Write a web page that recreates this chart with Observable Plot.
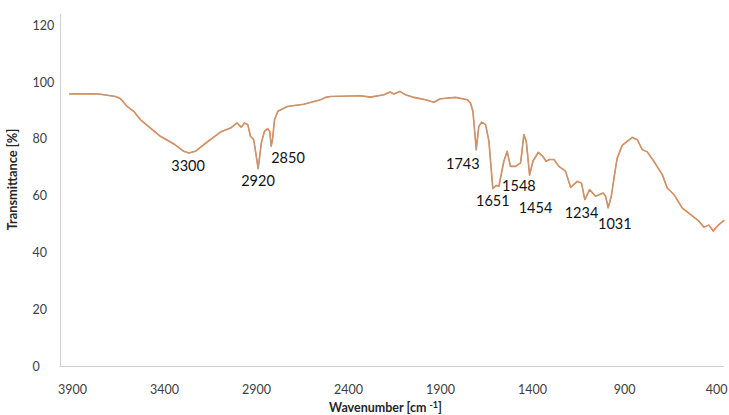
<!DOCTYPE html>
<html><head><meta charset="utf-8">
<script src="https://cdn.jsdelivr.net/npm/d3@7"></script>
<script src="https://cdn.jsdelivr.net/npm/@observablehq/plot@0.6"></script>
<style>body{margin:0;background:#fff} svg{display:block}</style>
</head><body><div id="chart"></div>
<script>
const wavenumber = [3915,3820,3757,3666,3639,3603,3567,3530,3476,3422,3349,3295,3268,3232,3186,3096,3041,3005,2983,2965,2947,2933,2915,2891,2874,2857,2839,2828,2820,2813,2802,2784,2733,2643,2552,2525,2498,2335,2280,2208,2175,2154,2121,2090,2045,1982,1936,1900,1818,1755,1737,1724,1706,1692,1677,1655,1637,1616,1597,1583,1556,1538,1520,1492,1465,1447,1434,1416,1398,1369,1344,1326,1308,1284,1257,1221,1193,1157,1134,1116,1090,1058,1016,1003,989,972,949,940,913,858,831,804,777,741,695,668,632,587,541,496,469,442,418,388,361];
const transmittance = [96.0,96.1,96.0,95.1,94.3,91.6,89.9,86.9,84.0,81.1,78.4,75.8,75.2,75.8,78.2,82.6,84.0,85.8,84.3,85.8,85.2,81.1,79.9,69.7,78.7,82.8,83.8,82.8,77.6,79.9,86.9,89.9,91.6,92.4,94.0,94.8,95.1,95.4,94.9,95.7,96.7,96.0,96.9,95.7,94.8,94.0,93.1,94.3,94.8,94.0,92.8,89.9,76.4,84.6,86.1,85.2,79.3,62.7,63.8,63.5,72.3,75.8,70.5,70.5,71.7,81.7,79.3,67.4,72.3,75.4,74.0,72.3,72.9,72.9,70.5,68.8,63.1,65.2,64.6,58.8,62.3,60.0,61.1,60.0,55.9,60.0,69.9,73.4,77.9,80.7,79.9,76.4,75.6,72.3,67.6,62.9,60.6,55.9,53.5,51.2,49.1,49.8,47.7,50.0,51.4];

const peakLabels = ["3300","2920","2850","1743","1651","1548","1454","1234","1031"];
const peakLabelX = [3272,2892,2729,1779,1616,1474,1384,1134,953];
const peakLabelY = [70.5,65.2,73.2,71.1,58.0,63.4,55.6,54.1,50.2];

const xTicks = [3900,3400,2900,2400,1900,1400,900,400];
const yTicks = [0,20,40,60,80,100,120];
const xDomain = [3965, 357];
const yDomain = [0, 124];
const xTitle = "Wavenumber [cm -1]";
const yTitle = "Transmittance [%]";

const spectrum = wavenumber.map((w, i) => ({w, t: transmittance[i]}));
const peaks = peakLabels.map((label, i) => ({label, x: peakLabelX[i], y: peakLabelY[i]}));

const chart = Plot.plot({
  width: 729, height: 415,
  marginLeft: 60, marginRight: 5, marginTop: 14, marginBottom: 49,
  style: {fontFamily: "Lato, 'Open Sans', sans-serif", background: "#fff"},
  x: {domain: xDomain, axis: null},
  y: {domain: yDomain, axis: null},
  marks: [
    Plot.ruleX([xDomain[0]], {stroke: "#d0d0d0", strokeWidth: 1}),
    Plot.ruleY([0], {stroke: "#d0d0d0", strokeWidth: 1}),
    Plot.text(xTicks, {x: d => d, frameAnchor: "bottom", dy: 23, lineAnchor: "middle", text: d => String(d), fontSize: 12.5, fill: "#404040"}),
    Plot.text(yTicks, {y: d => d, frameAnchor: "left", dx: -28, textAnchor: "start", lineAnchor: "middle", text: d => String(d), fontSize: 12.5, fill: "#404040"}),
    Plot.line(spectrum, {x: "w", y: "t", stroke: "#ED7D31", strokeWidth: 1.6}),
    Plot.line(spectrum, {x: "w", y: "t", stroke: "#A5A5A5", strokeWidth: 0.9, strokeOpacity: 0.85}),
    Plot.text(peaks, {x: "x", y: "y", text: "label", fontSize: 14.5, fill: "#111"}),
    Plot.text([xTitle], {frameAnchor: "bottom", dx: -7, dy: 41, lineAnchor: "middle", textAnchor: "middle", text: d => d, fontSize: 12.5, fontWeight: "bold", fill: "#262626"}),
    Plot.text([yTitle], {frameAnchor: "left", dx: -47.5, dy: -11, rotate: -90, textAnchor: "middle", lineAnchor: "middle", text: d => d, fontSize: 12.8, fontWeight: "bold", fill: "#262626"})
  ]
});

chart.querySelectorAll("text").forEach(t => {
  if (t.textContent === xTitle) {
    t.textContent = "";
    const ns = "http://www.w3.org/2000/svg";
    const a = document.createElementNS(ns, "tspan"); a.textContent = "Wavenumber [cm ";
    const b = document.createElementNS(ns, "tspan"); b.textContent = "-1"; b.setAttribute("dy", "-4"); b.setAttribute("font-size", "9");
    const c = document.createElementNS(ns, "tspan"); c.textContent = "]"; c.setAttribute("dy", "4");
    t.append(a, b, c);
  }
});

document.getElementById("chart").appendChild(chart);
</script>
</body></html>
